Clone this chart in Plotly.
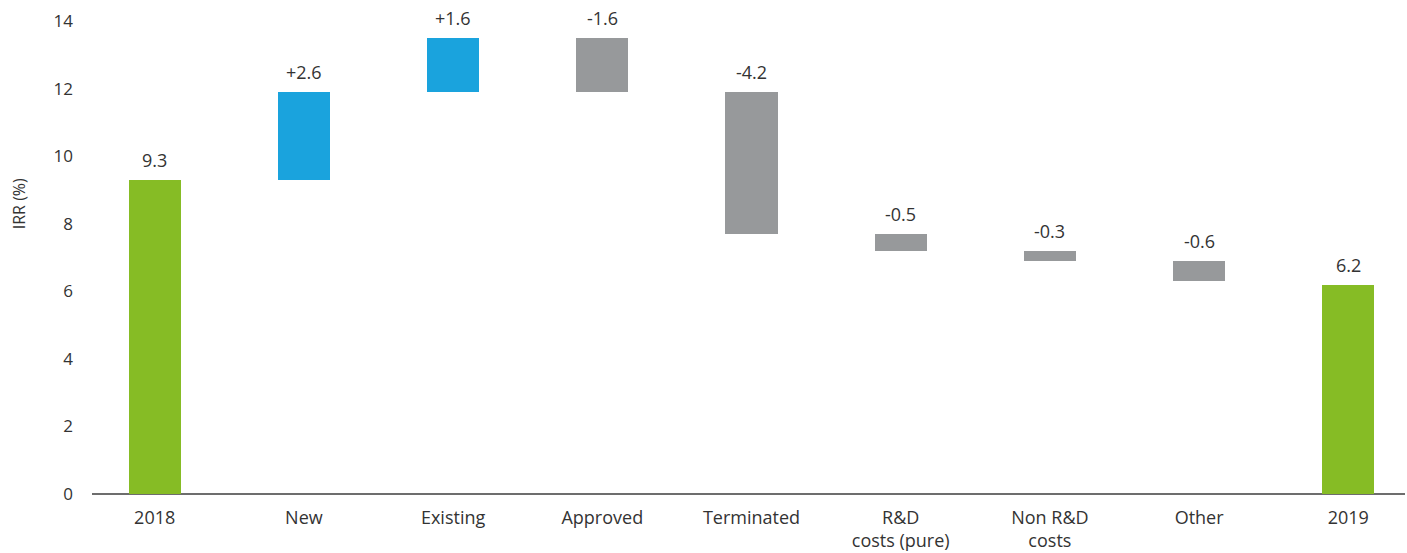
import plotly.graph_objects as go

# IRR bridge 2018 -> 2019
categories = ["2018", "New", "Existing", "Approved", "Terminated",
              "R&D<br>costs (pure)", "Non R&D<br>costs", "Other", "2019"]
measures = ["absolute", "relative", "relative", "relative", "relative",
            "relative", "relative", "relative", "absolute"]
values = [9.3, 2.6, 1.6, -1.6, -4.2, -0.5, -0.3, -0.6, 6.2]
labels = ["9.3", "+2.6", "+1.6", "-1.6", "-4.2", "-0.5", "-0.3", "-0.6", "6.2"]

GREEN = "#86BC25"
BLUE = "#1AA3DD"
GREY = "#97999B"
TEXT = "#333333"

bases, heights, colors, tops = [], [], [], []
level = 0.0
for m, v in zip(measures, values):
    if m == "absolute":
        bases.append(0.0)
        heights.append(v)
        colors.append(GREEN)
        level = v
        tops.append(v)
    else:
        start = level
        level = start + v
        bases.append(min(start, level))
        heights.append(abs(v))
        colors.append(BLUE if v > 0 else GREY)
        tops.append(max(start, level))

x_pos = list(range(len(categories)))

fig = go.Figure()
fig.add_trace(go.Bar(
    x=x_pos, y=heights, base=bases,
    marker=dict(color=colors, line=dict(width=0)),
    width=0.35, hoverinfo="skip", showlegend=False,
))

# value labels above each bar
for xp, top, lab in zip(x_pos, tops, labels):
    fig.add_annotation(
        x=xp, y=top, text=lab, showarrow=False,
        xanchor="center", yanchor="bottom", yshift=6,
        font=dict(family="Open Sans", size=18, color=TEXT),
    )

# axis title
fig.add_annotation(
    xref="paper", yref="y", x=-0.055, y=8.6, text="IRR (%)",
    textangle=-90, showarrow=False, xanchor="center", yanchor="middle",
    font=dict(family="Open Sans", size=16, color=TEXT),
)

fig.update_layout(
    width=1407, height=553,
    margin=dict(l=92, r=2, t=21, b=59),
    paper_bgcolor="white", plot_bgcolor="white",
    font=dict(family="Open Sans", size=18, color=TEXT),
    bargap=0,
    xaxis=dict(
        range=[-0.42, 8.38], automargin=False,
        tickmode="array", tickvals=x_pos, ticktext=categories,
        showgrid=False, zeroline=False,
        showline=False, ticks="", ticklabelstandoff=11,
        tickfont=dict(size=18, color=TEXT),
    ),
    yaxis=dict(
        range=[0, 14], automargin=False, tickvals=[0, 2, 4, 6, 8, 10, 12, 14],
        showgrid=False, zeroline=True, zerolinecolor="#6d6d6d", zerolinewidth=2,
        showline=False, ticks="", ticklabelstandoff=18,
        tickfont=dict(size=17, color=TEXT),
    ),
)

fig.write_html("out.html")
